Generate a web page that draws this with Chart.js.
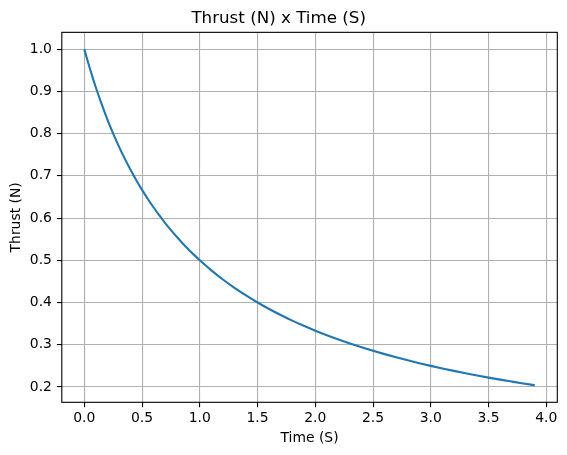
<!DOCTYPE html>
<html>
<head>
<meta charset="utf-8">
<script src="https://cdn.jsdelivr.net/npm/chart.js@4.4.1/dist/chart.umd.min.js"></script>
<style>
html,body{margin:0;padding:0;background:#fff;}
#wrap{width:567px;height:455px;position:relative;}
</style>
</head>
<body>
<div id="wrap"><canvas id="c"></canvas></div>
<script>
const timeValues = [0.0,0.025,0.05,0.075,0.1,0.15,0.2,0.25,0.3,0.35,0.4,0.45,0.5,0.55,0.6,0.65,0.7,0.75,0.8,0.85,0.9,0.95,1.0,1.1,1.2,1.3,1.4,1.5,1.6,1.7,1.8,1.9,2.0,2.1,2.2,2.3,2.4,2.5,2.6,2.7,2.8,2.9,3.0,3.1,3.2,3.3,3.4,3.5,3.6,3.7,3.8,3.9];
const thrustValues = [1.0,0.9756,0.9524,0.9302,0.9091,0.8696,0.8333,0.8,0.7692,0.7407,0.7143,0.6897,0.6667,0.6452,0.625,0.6061,0.5882,0.5714,0.5556,0.5405,0.5263,0.5128,0.5,0.4762,0.4545,0.4348,0.4167,0.4,0.3846,0.3704,0.3571,0.3448,0.3333,0.3226,0.3125,0.3030,0.2941,0.2857,0.2778,0.2703,0.2632,0.2564,0.25,0.2439,0.2381,0.2326,0.2273,0.2222,0.2174,0.2128,0.2083,0.2041];
const xTicks = [0.0,0.5,1.0,1.5,2.0,2.5,3.0,3.5,4.0];
const yTicks = [0.2,0.3,0.4,0.5,0.6,0.7,0.8,0.9,1.0];
const titleText = 'Thrust (N) x Time (S)';
const xLabel = 'Time (S)';
const yLabel = 'Thrust (N)';

const FONT = 'DejaVu Sans';
const points = timeValues.map((t, i) => ({x: t, y: thrustValues[i]}));

const framePlugin = {
  id: 'frame',
  afterDatasetsDraw(chart) {
    const {ctx, chartArea: a} = chart;
    ctx.save();
    ctx.strokeStyle = '#000';
    ctx.lineWidth = 1.1;
    ctx.strokeRect(a.left, a.top, a.right - a.left, a.bottom - a.top);
    ctx.restore();
  }
};

new Chart(document.getElementById('c'), {
  type: 'line',
  data: {
    datasets: [{
      data: points,
      borderColor: '#1f77b4',
      borderWidth: 2.1,
      pointRadius: 0,
      fill: false,
      tension: 0,
      cubicInterpolationMode: 'monotone'
    }]
  },
  options: {
    responsive: true,
    maintainAspectRatio: false,
    animation: false,
    layout: {padding: {left: 0, right: 9.7, top: 0, bottom: 0}},
    plugins: {
      legend: {display: false},
      tooltip: {enabled: false},
      title: {
        display: true,
        text: titleText,
        color: '#000',
        font: {family: FONT, size: 16.7, weight: 'normal', lineHeight: 1.2},
        padding: {top: 8.2, bottom: 4.1}
      }
    },
    scales: {
      x: {
        type: 'linear',
        min: -0.195,
        max: 4.095,
        afterBuildTicks: s => { s.ticks = xTicks.map(v => ({value: v})); },
        afterFit: s => { s.height = 52.7; },
        ticks: {
          color: '#000',
          font: {family: FONT, size: 13.9},
          padding: 3,
          maxRotation: 0,
          autoSkip: false,
          callback: v => Number(v).toFixed(1)
        },
        grid: {color: '#b0b0b0', lineWidth: 1.1, tickColor: '#000', tickLength: 4.9, tickWidth: 1.1},
        border: {display: false},
        title: {display: true, text: xLabel, color: '#000', font: {family: FONT, size: 13.9, lineHeight: 1.2}, padding: {top: 0, bottom: 8.3}}
      },
      y: {
        type: 'linear',
        min: 0.1637,
        max: 1.0398,
        afterBuildTicks: s => { s.ticks = yTicks.map(v => ({value: v})); },
        afterFit: s => { s.width = 61.8; },
        ticks: {
          color: '#000',
          font: {family: FONT, size: 13.9},
          padding: 5,
          autoSkip: false,
          callback: v => Number(v).toFixed(1)
        },
        grid: {color: '#b0b0b0', lineWidth: 1.1, tickColor: '#000', tickLength: 4.9, tickWidth: 1.1},
        border: {display: false},
        title: {display: true, text: yLabel, color: '#000', font: {family: FONT, size: 13.9, lineHeight: 1.2}, padding: {top: 8.5, bottom: 0}}
      }
    }
  },
  plugins: [framePlugin]
});
</script>
</body>
</html>
